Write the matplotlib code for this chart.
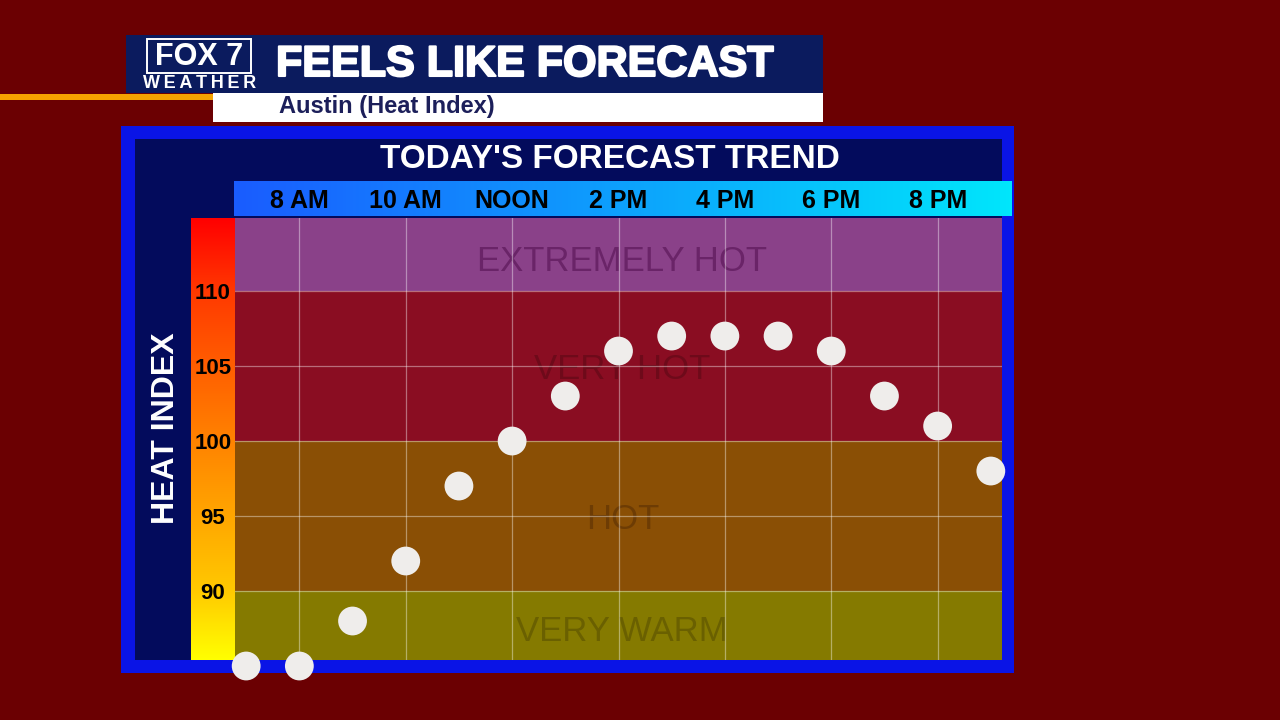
import matplotlib
matplotlib.use("Agg")
import matplotlib.pyplot as plt
import matplotlib.patheffects as pe
import numpy as np
from matplotlib.patches import Rectangle
from matplotlib.colors import LinearSegmentedColormap

plt.rcParams['font.family'] = ['Liberation Sans', 'DejaVu Sans']

hours = [7, 8, 9, 10, 11, 12, 13, 14, 15, 16, 17, 18, 19, 20, 21]
heat_index = [85, 85, 88, 92, 97, 100, 103, 106, 107, 107, 107, 106, 103, 101, 98]

tick_hours = [8, 10, 12, 14, 16, 18, 20]
tick_labels = ["8 AM", "10 AM", "NOON", "2 PM", "4 PM", "6 PM", "8 PM"]
y_ticks = [90, 95, 100, 105, 110]

band_lows = [80, 90, 100, 110]
band_highs = [90, 100, 110, 120]
band_names = ["VERY WARM", "HOT", "VERY HOT", "EXTREMELY HOT"]
band_label_y = [87.3, 94.8, 104.8, 112.0]
band_colors = ["#857a00", "#8a4f05", "#8a0d22", "#8a4189"]
band_text_colors = ["#6a6000", "#6d3c04", "#6e0a1a", "#6a2468"]

fig = plt.figure(figsize=(12.8, 7.2), dpi=100)
fig.patch.set_facecolor("#6b0002")

# pixel-space canvas for the TV graphic frame
bg = fig.add_axes([0, 0, 1, 1], zorder=0)
bg.set_xlim(0, 1280)
bg.set_ylim(720, 0)
bg.axis("off")

def box(x0, y0, x1, y1, color, **kw):
    bg.add_patch(Rectangle((x0, y0), x1 - x0, y1 - y0, facecolor=color,
                           edgecolor="none", **kw))

# header
box(126, 35, 823, 93, "#0b1b5e")
box(0, 94, 213, 100, "#f5a300")
box(213, 93, 823, 122, "white")
bg.add_patch(Rectangle((147, 39), 104, 34, facecolor="none",
                       edgecolor="white", lw=1.4))
bg.text(199, 57, "FOX 7", color="white", fontsize=22, weight="bold",
        ha="center", va="center")
bg.text(200, 84, "W\u2009E\u2009A\u2009T\u2009H\u2009E\u2009R", color="white",
        fontsize=13, weight="bold", ha="center", va="center")
bg.text(276, 65, "FEELS LIKE FORECAST", color="white", fontsize=31,
        weight="bold", ha="left", va="center",
        path_effects=[pe.withStroke(linewidth=1.5, foreground="white")])
bg.text(279, 107, "Austin (Heat Index)", color="#1c1f5a", fontsize=17,
        weight="bold", ha="left", va="center")

# main frame
box(121, 126, 1014, 673, "#0a14e6")
box(135, 139, 1002, 660, "#030b5c")
bg.text(610, 159, "TODAY'S FORECAST TREND", color="white", fontsize=24,
        weight="bold", ha="center", va="center")
bg.text(166, 428, "HEAT INDEX", color="white", fontsize=23, weight="bold",
        ha="center", va="center", rotation=90)

# time header gradient
hdr_cmap = LinearSegmentedColormap.from_list("hdr", ["#1a5cff", "#00e6fb"])
bg.imshow(np.linspace(0, 1, 256)[None, :], cmap=hdr_cmap, aspect="auto",
          extent=(234, 1012, 216, 181), zorder=1)

# vertical heat colour bar
bar_cmap = LinearSegmentedColormap.from_list(
    "bar", [(0, "#ff0000"), (0.17, "#ff3a00"), (0.5, "#ff8200"),
            (0.84, "#ffc800"), (1, "#ffff00")])
bg.imshow(np.linspace(0, 1, 256)[:, None], cmap=bar_cmap, aspect="auto",
          extent=(191, 235, 660, 218), zorder=1)
bg.set_xlim(0, 1280)
bg.set_ylim(720, 0)

# chart
ax = fig.add_axes([235 / 1280, 60 / 720, 767 / 1280, 442 / 720], zorder=2)
ax.set_facecolor("none")
ax.set_xlim(6.79, 21.21)
ax.set_ylim(85.4, 114.87)

for lo, hi, c in zip(band_lows, band_highs, band_colors):
    ax.axhspan(lo, hi, color=c, zorder=0.5, lw=0)
for name, y, c in zip(band_names, band_label_y, band_text_colors):
    ax.text(0.505, y, name, transform=ax.get_yaxis_transform(),
            color=c, fontsize=25, ha="center", va="center", zorder=1)

ax.set_xticks(tick_hours)
ax.set_xticklabels(tick_labels, fontsize=18, weight="bold", color="black")
ax.xaxis.tick_top()
ax.tick_params(axis="x", length=0, pad=3.5)

ax.set_yticks(y_ticks)
ax.set_yticklabels([str(v) for v in y_ticks], fontsize=16, weight="bold",
                   color="black")
ax.tick_params(axis="y", length=0, pad=15.8)
plt.setp(ax.get_yticklabels(), ha="center")

ax.grid(True, color="white", alpha=0.4, lw=0.9, zorder=1.5)
for s in ax.spines.values():
    s.set_visible(False)

ax.scatter(hours, heat_index, s=430, color="#efedeb", edgecolors="none",
           zorder=5, clip_on=False)

fig.savefig("out.png", dpi=100, facecolor=fig.get_facecolor())
